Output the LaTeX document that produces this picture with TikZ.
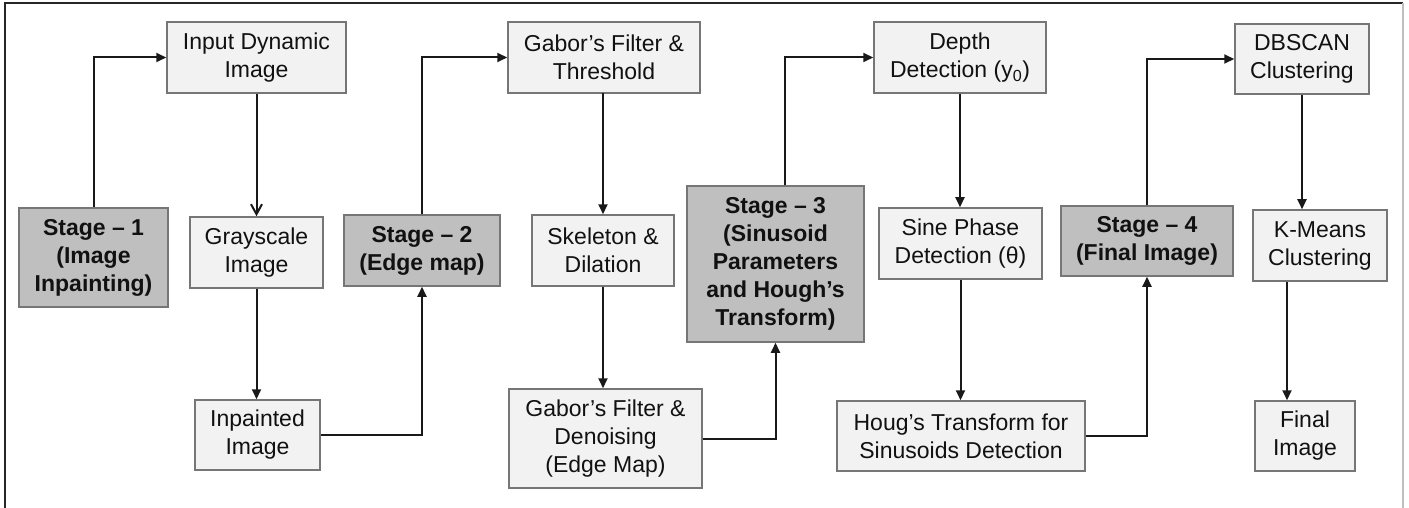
\documentclass[tikz,border=0pt]{standalone}
\usepackage{fontspec}
\setmainfont{Liberation Sans}
\usetikzlibrary{arrows.meta}
\definecolor{boxfill}{HTML}{F2F2F2}
\definecolor{stagefill}{HTML}{BFBFBF}
\definecolor{boxline}{HTML}{767676}
\definecolor{txt}{HTML}{111111}
\begin{document}
\begin{tikzpicture}[x=1pt,y=-1pt,
  base/.style={rectangle,draw=boxline,line width=1.5pt,inner sep=0pt,align=center,
    text=txt,font=\fontsize{23}{28}\selectfont},
  proc/.style={base,fill=boxfill},
  stagebox/.style={base,fill=stagefill,font=\fontsize{23}{28}\selectfont\bfseries},
  conn/.style={line width=2pt,draw=black!90,-{Triangle[length=10pt,width=9pt]}},
  openconn/.style={line width=2pt,draw=black!90,-{Straight Barb[length=10pt,width=11pt]}}
]
\useasboundingbox (0,0) rectangle (1409,508);
\fill[white] (0,0) rectangle (1409,508);
% frame
\draw[line width=1.8pt,black!85] (5,508) -- (5,3) -- (1403,3);
\draw[line width=1.4pt,black!25] (1403,3) -- (1403,508);

% nodes (centre, width, height)
\node[stagebox,minimum width=149pt,minimum height=99pt] (s1) at (93.5,257.5) {Stage -- 1\\(Image\\Inpainting)};
\node[proc,minimum width=179pt,minimum height=71pt] (in) at (256.5,57.5) {Input Dynamic\\Image};
\node[proc,minimum width=133pt,minimum height=71pt] (gray) at (256.5,252.5) {Grayscale\\Image};
\node[proc,minimum width=125pt,minimum height=70pt] (inp) at (257.5,435) {Inpainted\\Image};

\node[stagebox,minimum width=156pt,minimum height=71pt] (s2) at (422,250.5) {Stage -- 2\\(Edge map)};
\node[proc,minimum width=192pt,minimum height=71pt] (gab) at (604,57.5) {Gabor’s Filter \&\\Threshold};
\node[proc,minimum width=142pt,minimum height=71pt] (skel) at (603,250.5) {Skeleton \&\\Dilation};
\node[proc,minimum width=193pt,minimum height=99pt] (den) at (605.5,438.5) {Gabor’s Filter \&\\Denoising\\(Edge Map)};

\node[stagebox,minimum width=177pt,minimum height=156pt] (s3) at (775.5,264) {Stage -- 3\\(Sinusoid\\Parameters\\and Hough’s\\Transform)};
\node[proc,minimum width=172pt,minimum height=71pt] (dep) at (960,57.5) {Depth\\Detection (y\textsubscript{0})};
\node[proc,minimum width=163pt,minimum height=71pt] (sine) at (960.5,243.5) {Sine Phase\\Detection (θ)};
\node[proc,minimum width=248pt,minimum height=70pt] (houg) at (961,436) {Houg’s Transform for\\Sinusoids Detection};

\node[stagebox,minimum width=172pt,minimum height=70pt] (s4) at (1147,241) {Stage -- 4\\(Final Image)};
\node[proc,minimum width=134pt,minimum height=70pt] (db) at (1302,59) {DBSCAN\\Clustering};
\node[proc,minimum width=134pt,minimum height=71pt] (km) at (1320,245.5) {K-Means\\Clustering};
\node[proc,minimum width=100pt,minimum height=70pt] (fin) at (1305,436) {Final\\Image};

% connectors
\draw[conn] (s1.north) |- (in.west);
\draw[openconn] (in.south) -- (gray.north);
\draw[conn] (gray.south) -- (gray.south |- inp.north);
\draw[conn] (inp.east) -| (s2.south);
\draw[conn] (s2.north) |- (gab.west);
\draw[conn] (gab.south) -- (gab.south -| skel.north) -- (skel.north);
\draw[conn] (skel.south) -- (skel.south |- den.north);
\draw[conn] (den.east) -| (s3.south);
\draw[conn] ([xshift=9.5pt]s3.north) |- (dep.west);
\draw[conn] (dep.south) -- (dep.south |- sine.north);
\draw[conn] (sine.south) -- (sine.south |- houg.north);
\draw[conn] (houg.east) -| (s4.south);
\draw[conn] (s4.north) |- (db.west);
\draw[conn] (db.south) -- (db.south |- km.north);
\draw[conn] ([xshift=-33pt]km.south) -- ([xshift=-18pt]fin.north);
\end{tikzpicture}
\end{document}
